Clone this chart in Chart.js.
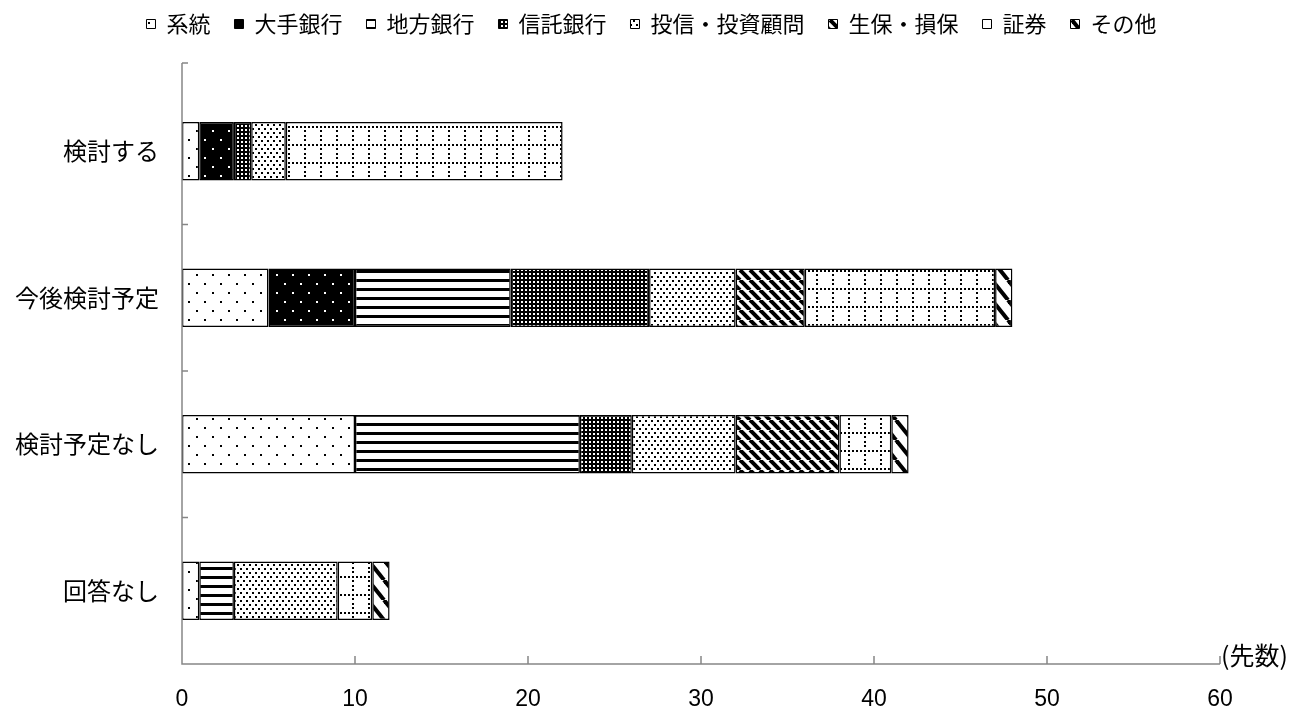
<!DOCTYPE html>
<html>
<head>
<meta charset="utf-8">
<script src="https://cdn.jsdelivr.net/npm/chart.js@4.4.0/dist/chart.umd.min.js"></script>
<style>
  html, body { margin: 0; padding: 0; background: #ffffff; }
</style>
</head>
<body>
<canvas id="grafico" width="1291" height="713"></canvas>
<script>
// categories (y axis) and series names
const categories = ['検討する', '今後検討予定', '検討予定なし', '回答なし'];
const seriesNames = ['系統', '大手銀行', '地方銀行', '信託銀行', '投信・投資顧問', '生保・損保', '証券', 'その他'];

// values per series, in category order
const keito      = [1, 5, 10, 1];
const oteGinko   = [2, 5, 0, 0];
const chihoGinko = [0, 9, 13, 2];
const shintaku   = [1, 8, 3, 0];
const toshin     = [2, 5, 6, 6];
const seihoSonpo = [0, 4, 6, 0];
const shoken     = [16, 11, 3, 2];
const sonota     = [0, 1, 1, 1];
const seriesValues = [keito, oteGinko, chihoGinko, shintaku, toshin, seihoSonpo, shoken, sonota];

// x axis
const xMin = 0, xMax = 60, xStep = 10;
const unitLabel = '(先数)';

const JP = "'Noto Sans CJK JP', 'Noto Sans CJK SC', sans-serif";
const LATIN = "'Liberation Sans', Arial, sans-serif";

// small tile canvases for the hatch fills
function tile(w, h, draw) {
  const c = document.createElement('canvas');
  c.width = w; c.height = h;
  const g = c.getContext('2d');
  draw(g, w, h);
  return c;
}

function dots(bg, fg, w, h, pts, s) {
  return tile(w, h, g => {
    g.fillStyle = bg; g.fillRect(0, 0, w, h);
    g.fillStyle = fg;
    pts.forEach(([x, y]) => g.fillRect(x, y, s, s));
  });
}

function diagonal(w, h, lw) {
  return tile(w, h, g => {
    g.fillStyle = '#fff'; g.fillRect(0, 0, w, h);
    g.strokeStyle = '#000'; g.lineWidth = lw;
    [-w, 0, w].forEach(dx => {
      g.beginPath(); g.moveTo(dx, 0); g.lineTo(dx + w, h); g.stroke();
    });
  });
}

const tiles = [
  dots('#fff', '#000', 16, 18, [[4, 4], [12, 13]], 2),          // 系統
  dots('#000', '#fff', 16, 18, [[4, 4], [12, 13]], 2),          // 大手銀行
  tile(4, 9, g => {                                              // 地方銀行
    g.fillStyle = '#fff'; g.fillRect(0, 0, 4, 9);
    g.fillStyle = '#000'; g.fillRect(0, 0, 4, 3);
  }),
  dots('#000', '#fff', 4, 4, [[1, 1]], 2),                       // 信託銀行
  dots('#fff', '#000', 6, 8, [[0, 0], [3, 4]], 2),               // 投信・投資顧問
  diagonal(10, 10, 4),                                           // 生保・損保
  tile(16, 18, g => {                                            // 証券
    g.fillStyle = '#fff'; g.fillRect(0, 0, 16, 18);
    g.fillStyle = '#000';
    [0, 4, 8, 12].forEach(x => g.fillRect(x, 0, 2, 2));
    [4, 9, 13].forEach(y => g.fillRect(0, y, 2, 2));
  }),
  diagonal(16, 20, 4)                                            // その他
];

const canvas = document.getElementById('grafico');
const ctx = canvas.getContext('2d');
const patterns = tiles.map(t => ctx.createPattern(t, 'repeat'));

// legend height fixed so the plot area starts where the reference does
const legendHeight = {
  id: 'legendHeight',
  beforeInit(chart) {
    const fit = chart.legend.fit;
    chart.legend.fit = function () {
      fit.call(this);
      this.height = 89;
    };
  }
};

// axis lines, inner tick marks and unit label
const axes = {
  id: 'axes',
  afterDraw(chart) {
    const { ctx, chartArea: a, scales: { x, y } } = chart;
    const top = a.top - 15;
    ctx.save();
    ctx.strokeStyle = '#868686';
    ctx.lineWidth = 1.5;
    ctx.beginPath();
    ctx.moveTo(a.left, top);
    ctx.lineTo(a.left, a.bottom);
    ctx.lineTo(a.right, a.bottom);
    x.ticks.forEach(t => {
      if (t.value === xMin) return;
      const px = x.getPixelForValue(t.value);
      ctx.moveTo(px, a.bottom);
      ctx.lineTo(px, a.bottom - 8);
    });
    ctx.moveTo(a.left, top);
    ctx.lineTo(a.left + 6, top);
    for (let i = 0; i < categories.length - 1; i++) {
      const py = y.getPixelForValue(i + 0.5);
      ctx.moveTo(a.left, py);
      ctx.lineTo(a.left + 6, py);
    }
    ctx.stroke();

    ctx.fillStyle = '#000';
    ctx.font = '25px ' + JP;
    ctx.textAlign = 'left';
    ctx.textBaseline = 'middle';
    ctx.fillText(unitLabel, a.right + 1, a.bottom - 9);
    ctx.restore();
  }
};

new Chart(ctx, {
  type: 'bar',
  data: {
    labels: categories,
    datasets: seriesNames.map((name, i) => ({
      label: name,
      data: seriesValues[i].map(v => v || null),
      backgroundColor: patterns[i],
      borderColor: '#000',
      borderWidth: 1.5,
      borderSkipped: false,
      barPercentage: 0.4,
      categoryPercentage: 1
    }))
  },
  options: {
    indexAxis: 'y',
    responsive: false,
    animation: false,
    layout: { padding: { top: -11, left: 12, right: 0, bottom: 0 } },
    plugins: {
      tooltip: { enabled: false },
      legend: {
        position: 'top',
        labels: {
          font: { family: JP, size: 22 },
          color: '#000',
          boxWidth: 9,
          boxHeight: 9,
          padding: 24,
          generateLabels(chart) {
            return Chart.defaults.plugins.legend.labels.generateLabels(chart)
              .map(l => Object.assign(l, { lineWidth: 1 }));
          }
        }
      }
    },
    scales: {
      x: {
        stacked: true,
        min: xMin,
        max: xMax,
        ticks: {
          stepSize: xStep,
          color: '#000',
          font: { family: LATIN, size: 23 },
          padding: 22
        },
        grid: { display: false, drawTicks: false },
        border: { display: false },
        afterFit(s) {
          s.height = 49;
          s.paddingRight = 71;
        }
      },
      y: {
        stacked: true,
        ticks: {
          color: '#000',
          font: { family: JP, size: 24 },
          padding: 23
        },
        grid: { display: false, drawTicks: false },
        border: { display: false },
        afterFit(s) {
          s.width = 170;
        }
      }
    }
  },
  plugins: [legendHeight, axes]
});
</script>
</body>
</html>
